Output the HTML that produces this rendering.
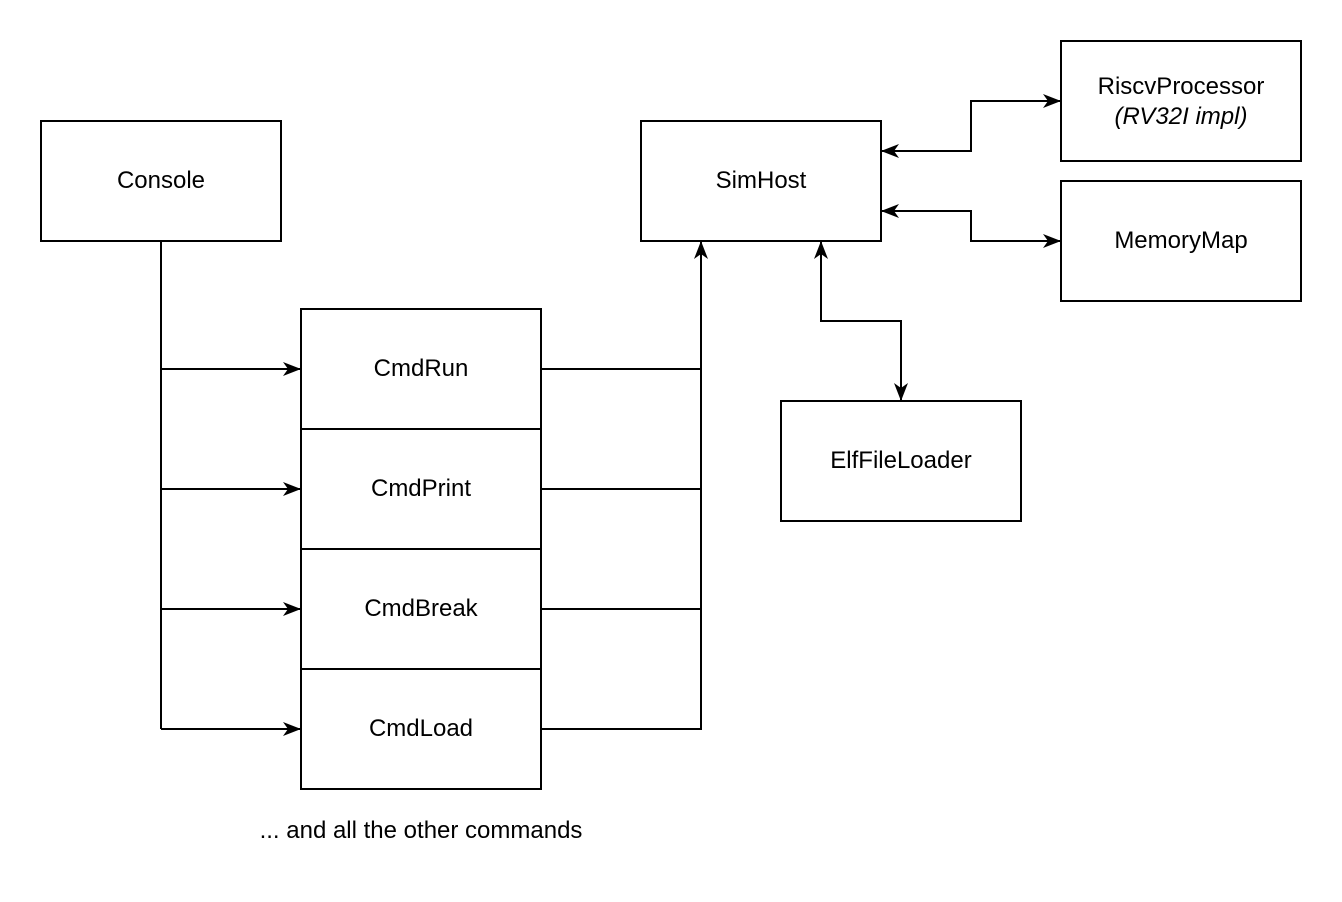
<!DOCTYPE html>
<html><head><meta charset="utf-8"><style>
html,body{margin:0;padding:0;background:#fff;}
svg{display:block;}
text{font-family:"Liberation Sans",Arial,sans-serif;font-size:24px;fill:#000;}
</style></head><body>
<svg width="1342" height="902" viewBox="0 0 1342 902" xmlns="http://www.w3.org/2000/svg">
<defs>
<marker id="a" viewBox="0 0 18 14" refX="17" refY="7" markerWidth="18" markerHeight="14" markerUnits="userSpaceOnUse" orient="auto-start-reverse">
<path d="M0,0 L18,7 L0,14 L5,7 z" fill="#000"/>
</marker>
</defs>
<g fill="#fff" stroke="#000" stroke-width="2">
<rect x="41" y="121" width="240" height="120"/>
<rect x="641" y="121" width="240" height="120"/>
<rect x="1061" y="41" width="240" height="120"/>
<rect x="1061" y="181" width="240" height="120"/>
<rect x="781" y="401" width="240" height="120"/>
<rect x="301" y="309" width="240" height="120"/>
<rect x="301" y="429" width="240" height="120"/>
<rect x="301" y="549" width="240" height="120"/>
<rect x="301" y="669" width="240" height="120"/>
</g>
<g fill="none" stroke="#000" stroke-width="2">
<path d="M161,241 V729"/>
<path d="M161,369 H300" marker-end="url(#a)"/>
<path d="M161,489 H300" marker-end="url(#a)"/>
<path d="M161,609 H300" marker-end="url(#a)"/>
<path d="M161,729 H300" marker-end="url(#a)"/>
<path d="M541,369 H701"/>
<path d="M541,489 H701"/>
<path d="M541,609 H701"/>
<path d="M541,729 H701 V242" marker-end="url(#a)"/>
<path d="M882,151 H971 V101 H1060" marker-start="url(#a)" marker-end="url(#a)"/>
<path d="M882,211 H971 V241 H1060" marker-start="url(#a)" marker-end="url(#a)"/>
<path d="M821,242 V321 H901 V400" marker-start="url(#a)" marker-end="url(#a)"/>
</g>
<g text-anchor="middle">
<text x="161" y="188">Console</text>
<text x="761" y="188">SimHost</text>
<text x="1181" y="94">RiscvProcessor</text>
<text x="1181" y="124" font-style="italic">(RV32I impl)</text>
<text x="1181" y="248">MemoryMap</text>
<text x="901" y="468">ElfFileLoader</text>
<text x="421" y="376">CmdRun</text>
<text x="421" y="496">CmdPrint</text>
<text x="421" y="616">CmdBreak</text>
<text x="421" y="736">CmdLoad</text>
<text x="421" y="838">... and all the other commands</text>
</g>
</svg>
</body></html>
